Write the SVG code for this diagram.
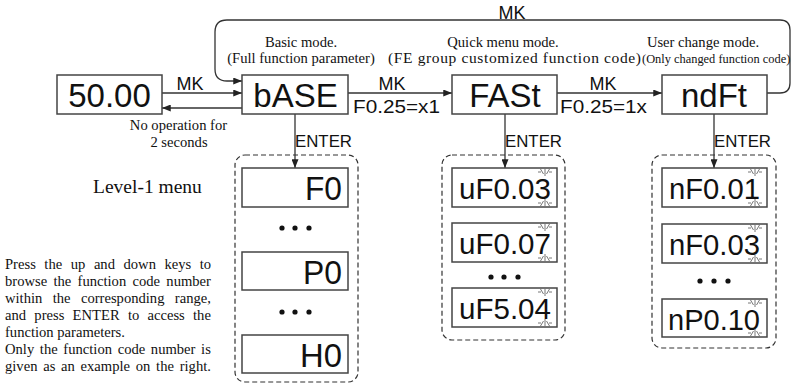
<svg xmlns="http://www.w3.org/2000/svg" width="793" height="384" viewBox="0 0 793 384">
<defs>
<style>
.box{fill:#fff;stroke:#444;stroke-width:1.5}
.big{font-family:"Liberation Sans",Arial,sans-serif;font-size:33px;fill:#111;text-anchor:middle}
.code{font-family:"Liberation Sans",Arial,sans-serif;font-size:29px;fill:#111;text-anchor:end}
.cap{font-size:33px}
.lbl{font-family:"Liberation Sans",Arial,sans-serif;font-size:18px;fill:#111}
.ent{font-size:16px}
.ser{font-family:"Liberation Serif","Times New Roman",serif;font-size:14.6px;fill:#111}
.mid{text-anchor:middle}
.ln{fill:none;stroke:#333;stroke-width:1.3}
.dash{fill:none;stroke:#333;stroke-width:1.2;stroke-dasharray:5 3}
.blink{stroke:#666;stroke-width:0.9;fill:none}
.dot{fill:#111}
</style>
<marker id="ah" viewBox="0 0 10 8" refX="10" refY="4" markerWidth="10" markerHeight="7" markerUnits="userSpaceOnUse" orient="auto"><path d="M0,0 L10,4 L0,8 z" fill="#222"/></marker>
<path id="bt" class="blink" d="M0,1 V8 M-4.5,1 L-1.5,6 M4.5,1 L1.5,6 M-7,4 H-4 M4,4 H7"/>
<path id="bb" class="blink" d="M0,-1 V-8 M-4.5,-1 L-1.5,-6 M4.5,-1 L1.5,-6 M-7,-4 H-4 M4,-4 H7"/>
</defs>
<rect width="793" height="384" fill="#fff"/>

<g id="connectors">
<path class="ln" d="M162,93 H242" marker-end="url(#ah)"/>
<path class="ln" d="M242,108 H162" marker-end="url(#ah)"/>
<path class="ln" d="M348,93 H452" marker-end="url(#ah)"/>
<path class="ln" d="M557,93 H662" marker-end="url(#ah)"/>
<path class="ln" d="M767,93 H780 Q790,93 790,83 V30 Q790,20 780,20 H227 Q215,20 215,32 V69 Q215,81 227,81 H242" marker-end="url(#ah)"/>
<path class="ln" d="M295,114 V168" marker-end="url(#ah)"/>
<path class="ln" d="M505,114 V168" marker-end="url(#ah)"/>
<path class="ln" d="M714,114 V168" marker-end="url(#ah)"/>
<text class="lbl" x="512" y="19" text-anchor="middle">MK</text>
<text class="lbl" x="190" y="90" text-anchor="middle">MK</text>
<text class="lbl" x="392" y="90" text-anchor="middle">MK</text>
<text class="lbl" x="603" y="90" text-anchor="middle">MK</text>
<text class="lbl" x="353" y="113" textLength="87" lengthAdjust="spacingAndGlyphs">F0.25=x1</text>
<text class="lbl" x="560" y="113" textLength="87" lengthAdjust="spacingAndGlyphs">F0.25=1x</text>
<text class="lbl ent" x="295" y="147" textLength="57" lengthAdjust="spacingAndGlyphs">ENTER</text>
<text class="lbl ent" x="505" y="147" textLength="57" lengthAdjust="spacingAndGlyphs">ENTER</text>
<text class="lbl ent" x="714" y="147" textLength="57" lengthAdjust="spacingAndGlyphs">ENTER</text>
<text class="ser mid" x="178.5" y="130">No operation for</text>
<text class="ser mid" x="179" y="147">2 seconds</text>
</g>

<g id="labels">
<text class="ser mid" x="301" y="47">Basic mode.</text>
<text class="ser mid" x="301" y="63">(Full function parameter)</text>
<text class="ser mid" x="503" y="47">Quick menu mode.</text>
<text class="ser" x="388" y="63" style="font-size:15.5px" textLength="253" lengthAdjust="spacing">(FE group customized function code)</text>
<text class="ser mid" x="703" y="47">User change mode.</text>
<text class="ser" x="642" y="63" style="font-size:12.4px">(Only changed function code)</text>
<text class="ser" x="93" y="193" style="font-size:19.5px">Level-1 menu</text>
<text class="ser" x="5" y="269" style="word-spacing:4.9px">Press the up and down keys to</text>
<text class="ser" x="5" y="286" style="word-spacing:2.65px">browse the function code number</text>
<text class="ser" x="5" y="303" style="word-spacing:6.77px">within the corresponding range,</text>
<text class="ser" x="5" y="320" style="word-spacing:4.62px">and press ENTER to access the</text>
<text class="ser" x="5" y="337">function parameters.</text>
<text class="ser" x="5" y="354" style="word-spacing:2.02px">Only the function code number is</text>
<text class="ser" x="5" y="371" style="word-spacing:2.1px">given as an example on the right.</text>
</g>

<g id="n-5000"><rect class="box" x="57" y="75" width="105" height="39"/><text class="big" x="109.5" y="107">50.00</text></g>
<g id="n-base"><rect class="box" x="242" y="75" width="106" height="39"/><text class="big" x="295.5" y="107">bASE</text></g>
<g id="n-fast"><rect class="box" x="452" y="75" width="105" height="39"/><text class="big" x="505" y="107">FASt</text></g>
<g id="n-ndft"><rect class="box" x="662" y="75" width="105" height="39"/><text class="big" x="714" y="107">ndFt</text></g>

<g id="grp-base">
<rect class="dash" x="235" y="155" width="123" height="227" rx="10"/>
<g id="b-f0"><rect class="box" x="242" y="168" width="106" height="39"/><text class="code cap" x="342" y="200" textLength="37" lengthAdjust="spacingAndGlyphs">F0</text></g>
<circle class="dot" cx="282" cy="228" r="2.6"/><circle class="dot" cx="295" cy="228" r="2.6"/><circle class="dot" cx="309" cy="228" r="2.6"/>
<g id="b-p0"><rect class="box" x="242" y="252" width="106" height="38"/><text class="code cap" x="342" y="284" textLength="39" lengthAdjust="spacingAndGlyphs">P0</text></g>
<circle class="dot" cx="282" cy="312" r="2.6"/><circle class="dot" cx="295" cy="312" r="2.6"/><circle class="dot" cx="309" cy="312" r="2.6"/>
<g id="b-h0"><rect class="box" x="242" y="335" width="106" height="38"/><text class="code cap" x="342" y="367" textLength="42" lengthAdjust="spacingAndGlyphs">H0</text></g>
</g>

<g id="grp-fast">
<rect class="dash" x="442" y="155" width="123" height="185" rx="10"/>
<g id="f-1"><rect class="box" x="452" y="168" width="105" height="39"/><text class="code" x="551" y="199" textLength="92" lengthAdjust="spacingAndGlyphs">uF0.03</text><use href="#bt" x="545" y="168"/><use href="#bb" x="545" y="207"/></g>
<g id="f-2"><rect class="box" x="452" y="223" width="105" height="39"/><text class="code" x="551" y="254" textLength="92" lengthAdjust="spacingAndGlyphs">uF0.07</text><use href="#bt" x="545" y="223"/><use href="#bb" x="545" y="262"/></g>
<circle class="dot" cx="491" cy="277" r="2.6"/><circle class="dot" cx="504" cy="277" r="2.6"/><circle class="dot" cx="518" cy="277" r="2.6"/>
<g id="f-3"><rect class="box" x="452" y="288" width="105" height="39"/><text class="code" x="551" y="319" textLength="92" lengthAdjust="spacingAndGlyphs">uF5.04</text><use href="#bt" x="545" y="288"/><use href="#bb" x="545" y="327"/></g>
</g>

<g id="grp-ndft">
<rect class="dash" x="652" y="155" width="124" height="193" rx="10"/>
<g id="u-1"><rect class="box" x="662" y="168" width="105" height="39"/><text class="code" x="760" y="199" textLength="91" lengthAdjust="spacingAndGlyphs">nF0.01</text><use href="#bt" x="755" y="168"/><use href="#bb" x="755" y="207"/></g>
<g id="u-2"><rect class="box" x="662" y="224" width="105" height="39"/><text class="code" x="760" y="255" textLength="91" lengthAdjust="spacingAndGlyphs">nF0.03</text><use href="#bt" x="755" y="224"/><use href="#bb" x="755" y="263"/></g>
<circle class="dot" cx="700" cy="281" r="2.6"/><circle class="dot" cx="714" cy="281" r="2.6"/><circle class="dot" cx="728" cy="281" r="2.6"/>
<g id="u-3"><rect class="box" x="662" y="299" width="105" height="38"/><text class="code" x="760" y="330" textLength="92" lengthAdjust="spacingAndGlyphs">nP0.10</text><use href="#bt" x="755" y="299"/><use href="#bb" x="755" y="337"/></g>
</g>
</svg>
